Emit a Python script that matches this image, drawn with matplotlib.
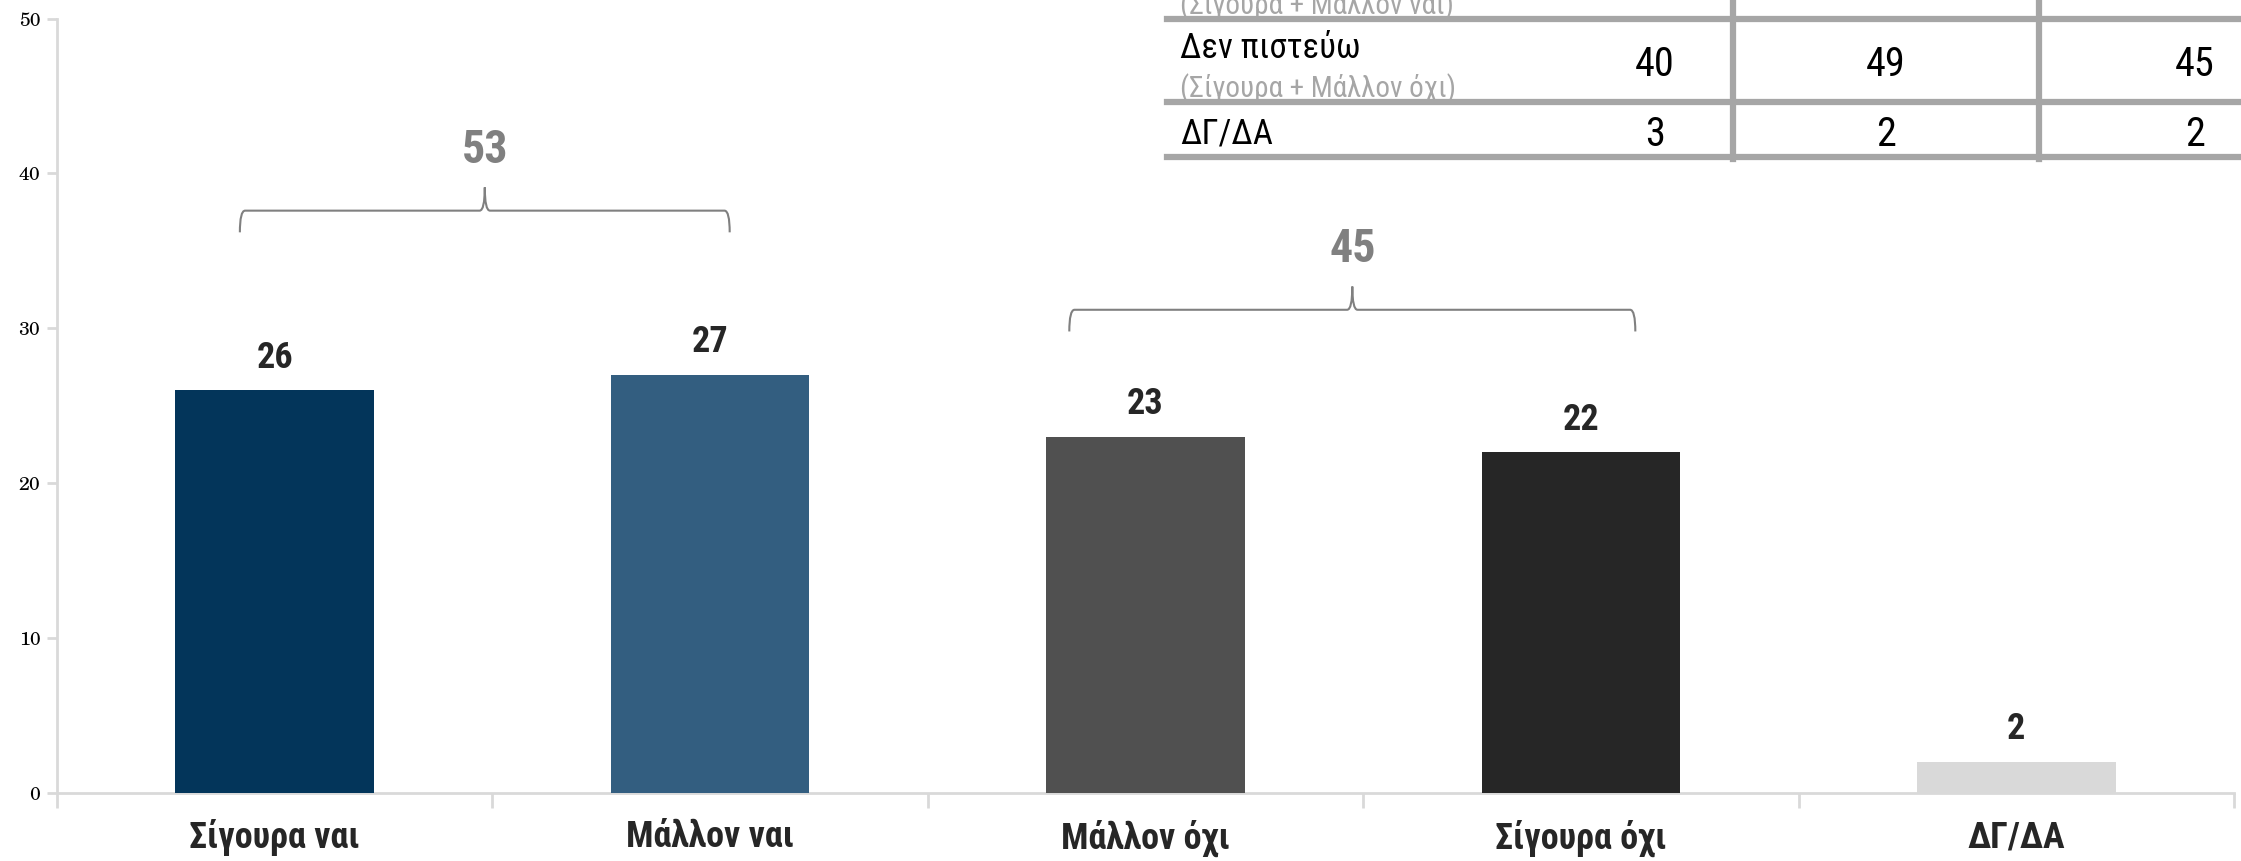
import matplotlib
matplotlib.use("Agg")
import matplotlib.pyplot as plt
from matplotlib.path import Path
from matplotlib.patches import PathPatch
from matplotlib.lines import Line2D
import numpy as np

W, H = 2241, 861
GRID = "#D9D9D9"
LINE = "#A6A6A6"
GREY = "#808080"
INK = "#262626"
NARROW = ["Roboto Condensed", "DejaVu Sans"]
SERIF = ["TeX Gyre Schola", "DejaVu Serif"]

categories = ["Σίγουρα ναι", "Μάλλον ναι", "Μάλλον όχι", "Σίγουρα όχι", "ΔΓ/ΔΑ"]
values = [26, 27, 23, 22, 2]
colors = ["#03355A", "#335E80", "#505050", "#262626", "#D9D9D9"]

# ομαδοποιήσεις (αγκύλες): πρώτη μπάρα, τελευταία μπάρα, σύνολο
groups = [(0, 1, 53), (2, 3, 45)]
brace_level = [37.6, 31.2]
brace_pad = [(0.08, 0.045), (0.175, 0.125)]

# πίνακας πάνω δεξιά (κομμένος)
row_labels = ["Δεν πιστεύω", "ΔΓ/ΔΑ"]
row_sub = ["(Σίγουρα + Μάλλον ναι)", "(Σίγουρα + Μάλλον όχι)"]
table_vals = [[40, 49, 45], [3, 2, 2]]

fig = plt.figure(figsize=(W / 100, H / 100), dpi=100)
ax = fig.add_axes([57 / W, (H - 793) / H, (2234 - 57) / W, (793 - 18.6) / H])

x = np.arange(len(categories))
ax.bar(x, values, width=0.456, color=colors, zorder=3)
for xi, v in zip(x, values):
    ax.text(xi, v + 2.1, str(v), ha="center", va="center", fontsize=26,
            fontweight="bold", color=INK, family=NARROW)

# αγκύλες
def brace(ax, x0, x1, y, drop=1.4, rise=1.5, r=0.012):
    xc = (x0 + x1) / 2
    verts = [(x0, y - drop), (x0, y), (x0 + r, y),
             (xc - r, y), (xc, y), (xc, y + rise),
             (xc, y), (xc + r, y),
             (x1 - r, y), (x1, y), (x1, y - drop)]
    codes = [Path.MOVETO, Path.CURVE3, Path.CURVE3,
             Path.LINETO, Path.CURVE3, Path.CURVE3,
             Path.CURVE3, Path.CURVE3,
             Path.LINETO, Path.CURVE3, Path.CURVE3]
    ax.add_patch(PathPatch(Path(verts, codes), fill=False, edgecolor=GREY, lw=1.5, zorder=4))

for (i0, i1, tot), lvl, (pl, pr) in zip(groups, brace_level, brace_pad):
    brace(ax, i0 - pl, i1 + pr, lvl)
    ax.text((i0 - pl + i1 + pr) / 2, lvl + 3.9, str(tot), ha="center", va="center",
            fontsize=33, fontweight="bold", color=GREY, family=NARROW)

ax.set_xlim(-0.5, len(categories) - 0.5)
ax.set_ylim(0, 50)
ax.set_yticks(range(0, 51, 10))
ax.set_yticklabels([str(t) for t in range(0, 51, 10)], family=SERIF, fontsize=14, color="black")
ax.set_xticks(np.arange(len(categories) + 1) - 0.5)
ax.set_xticklabels([])
ax.set_xticks(x, minor=True)
ax.set_xticklabels(categories, minor=True, fontsize=26, fontweight="bold", color=INK, family=NARROW)
ax.tick_params(axis="x", which="major", length=11, width=2, color=GRID)
ax.tick_params(axis="x", which="minor", length=0, pad=19)
ax.tick_params(axis="y", length=7, width=2, color=GRID, pad=5)
for s in ["top", "right"]:
    ax.spines[s].set_visible(False)
for s in ["left", "bottom"]:
    ax.spines[s].set_color(GRID)
    ax.spines[s].set_linewidth(2)

# πίνακας σε συντεταγμένες pixel
def fx(px):
    return px / W

def fy(py):
    return 1 - py / H

for py in [19, 102, 157]:
    fig.add_artist(Line2D([fx(1167), fx(W)], [fy(py), fy(py)], color=LINE, lw=4.5))
for px in [1733, 2039]:
    fig.add_artist(Line2D([fx(px), fx(px)], [fy(-50), fy(159)], color=LINE, lw=4.5))

fig.text(fx(1180), fy(6), row_sub[0], ha="left", va="center", fontsize=21, color=LINE, family=NARROW)
fig.text(fx(1180), fy(49), row_labels[0], ha="left", va="center", fontsize=25, color="black", family=NARROW)
fig.text(fx(1180), fy(89), row_sub[1], ha="left", va="center", fontsize=21, color=LINE, family=NARROW)
fig.text(fx(1180), fy(134), row_labels[1], ha="left", va="center", fontsize=25, color="black", family=NARROW)
col_x = [1655, 1886, 2195]
for r, py in enumerate([64, 134]):
    for c, px in enumerate(col_x):
        fig.text(fx(px), fy(py), str(table_vals[r][c]), ha="center", va="center",
                 fontsize=29, color="black", family=NARROW)

fig.savefig("out.png", dpi=100, facecolor="white")
